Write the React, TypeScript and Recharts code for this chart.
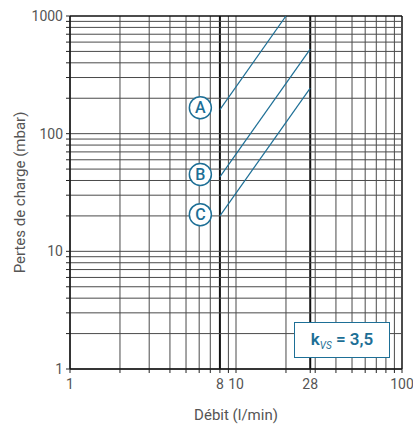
import React from 'react';
import { LineChart, Line, XAxis, YAxis, ReferenceLine, ReferenceDot } from 'recharts';

// grid / tick values
const xGrid = [1, 2, 3, 4, 5, 6, 7, 8, 9, 10, 20, 28, 30, 40, 50, 60, 70, 80, 90, 100];
const yGrid = [
  1, 2, 3, 4, 5, 6, 7, 8, 9, 10,
  20, 30, 40, 50, 60, 70, 80, 90, 100,
  200, 300, 400, 500, 600, 700, 800, 900, 1000,
];
const xLabels = [1, 8, 10, 28, 100];
const yLabels = [1, 10, 100, 1000];
const thickX = [8, 28];

// curves (l/min -> mbar)
const curveA = [{ x: 8, y: 160 }, { x: 20, y: 1000 }];
const curveB = [{ x: 8, y: 43 }, { x: 28, y: 523 }];
const curveC = [{ x: 8, y: 20 }, { x: 28, y: 244 }];

const curveLabels = [
  { name: 'A', x: 6.1, y: 166 },
  { name: 'B', x: 6.1, y: 45 },
  { name: 'C', x: 6.1, y: 20.5 },
];

const BLUE = '#1d6f96';
const GRID = '#4a4a4a';
const TEXT = '#555';

const Badge = (props: any) => {
  const { cx, cy, name } = props;
  return (
    <g>
      <circle cx={cx} cy={cy} r={11} fill="#fff" stroke={BLUE} strokeWidth={1.5} />
      <text x={cx} y={cy + 5.5} textAnchor="middle" fill={BLUE} fontSize={16} fontWeight={500}>
        {name}
      </text>
    </g>
  );
};

export default function App() {
  return (
    <div style={{ position: 'absolute', left: 0, top: 0, width: 413, height: 425, background: '#fff', fontFamily: 'Roboto, sans-serif' }}>
      <LineChart width={413} height={425} margin={{ top: 16, right: 11, bottom: 0, left: 0 }}>
        <XAxis
          dataKey="x"
          type="number"
          scale="log"
          domain={[1, 100]}
          ticks={xGrid}
          allowDataOverflow
          interval={0}
          height={56}
          tickSize={4}
          tickLine={{ stroke: '#222' }}
          axisLine={{ stroke: '#111', strokeWidth: 1.5 }}
          tick={{ fill: TEXT, fontSize: 14 }}
          tickMargin={6}
          tickFormatter={(v: number) => (xLabels.includes(v) ? String(v) : '')}
          label={{ value: 'Débit (l/min)', position: 'insideBottom', offset: 5, fill: TEXT, fontSize: 15 }}
        />
        <YAxis
          dataKey="y"
          type="number"
          scale="log"
          domain={[1, 1000]}
          ticks={yGrid}
          allowDataOverflow
          interval={0}
          width={70}
          tickSize={4}
          tickLine={{ stroke: '#222' }}
          axisLine={{ stroke: '#111', strokeWidth: 1.5 }}
          tick={{ fill: TEXT, fontSize: 14 }}
          tickMargin={3}
          tickFormatter={(v: number) => (yLabels.includes(v) ? String(v) : '')}
          label={{ value: 'Pertes de charge (mbar)', angle: -90, position: 'insideLeft', offset: 20, fill: TEXT, fontSize: 15, style: { textAnchor: 'middle' } }}
        />
        {xGrid.map((v) => (
          <ReferenceLine
            key={'x' + v}
            x={v}
            stroke={thickX.includes(v) || v === 100 ? '#111' : GRID}
            strokeWidth={thickX.includes(v) ? 2 : v === 100 ? 1.5 : 1}
          />
        ))}
        {yGrid.map((v) => (
          <ReferenceLine
            key={'y' + v}
            y={v}
            stroke={v === 1000 ? '#111' : GRID}
            strokeWidth={v === 1000 ? 1.5 : 1}
          />
        ))}
        <Line data={curveA} dataKey="y" stroke={BLUE} strokeWidth={1.2} dot={false} isAnimationActive={false} />
        <Line data={curveB} dataKey="y" stroke={BLUE} strokeWidth={1.2} dot={false} isAnimationActive={false} />
        <Line data={curveC} dataKey="y" stroke={BLUE} strokeWidth={1.2} dot={false} isAnimationActive={false} />
        {curveLabels.map((l) => (
          <ReferenceDot key={l.name} x={l.x} y={l.y} shape={(p: any) => <Badge {...p} name={l.name} />} />
        ))}
      </LineChart>
      <div
        style={{
          position: 'absolute',
          left: 294,
          top: 322,
          width: 94,
          height: 34,
          border: `1.5px solid ${BLUE}`,
          background: '#fff',
          color: BLUE,
          fontWeight: 600,
          fontSize: 17,
          display: 'flex',
          alignItems: 'center',
          justifyContent: 'center',
        }}
      >
        <span>
          k<sub style={{ fontSize: 10, fontStyle: 'italic', fontWeight: 400 }}>VS</sub> = 3,5
        </span>
      </div>
    </div>
  );
}
